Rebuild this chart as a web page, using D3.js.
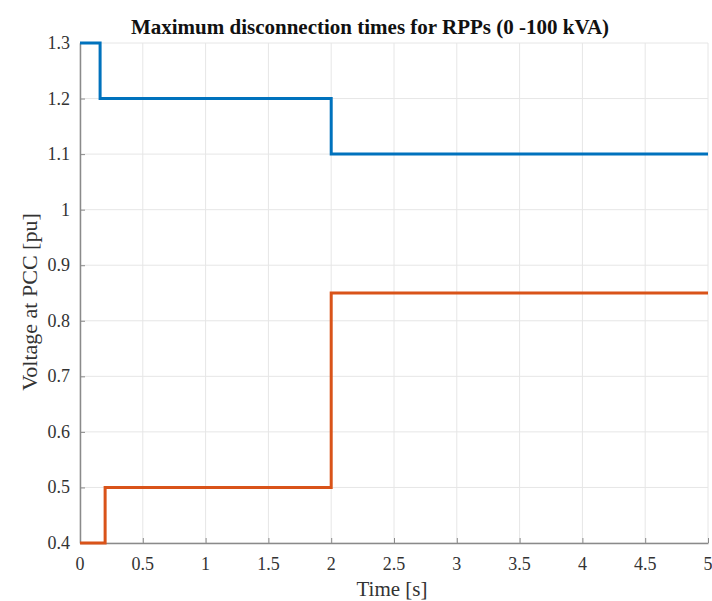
<!DOCTYPE html>
<html><head><meta charset="utf-8">
<script src="https://cdn.jsdelivr.net/npm/d3@7"></script>
<style>body{margin:0;background:#fff;} svg{display:block;}</style>
</head><body>
<svg id="c" width="712" height="601"></svg>
<script>
const title = "Maximum disconnection times for RPPs (0 -100 kVA)";
const xLabel = "Time [s]";
const yLabel = "Voltage at PCC [pu]";
const xTicks = [0,0.5,1,1.5,2,2.5,3,3.5,4,4.5,5];
const yTicks = [0.4,0.5,0.6,0.7,0.8,0.9,1,1.1,1.2,1.3];
const upperTime = [0,0.16,0.16,2,2,5];
const upperVolt = [1.3,1.3,1.2,1.2,1.1,1.1];
const lowerTime = [0,0.2,0.2,2,2,5];
const lowerVolt = [0.4,0.4,0.5,0.5,0.85,0.85];

const svg = d3.select("#c");
const m = {l:80, r:708, t:43, b:543};
const x = d3.scaleLinear().domain([0,5]).range([m.l,m.r]);
const y = d3.scaleLinear().domain([0.4,1.3]).range([m.b,m.t]);
const font = "Liberation Serif";
const fmt = d3.format("~g");

// grid
svg.append("g").selectAll("line").data(xTicks).join("line")
  .attr("x1",d=>x(d)).attr("x2",d=>x(d)).attr("y1",m.t).attr("y2",m.b)
  .attr("stroke","#e6e6e6").attr("stroke-width",1);
svg.append("g").selectAll("line").data(yTicks).join("line")
  .attr("y1",d=>y(d)).attr("y2",d=>y(d)).attr("x1",m.l).attr("x2",m.r)
  .attr("stroke","#e6e6e6").attr("stroke-width",1);

// axis lines and tick marks
const xa = svg.append("g").attr("transform",`translate(0,${m.b})`)
  .call(d3.axisBottom(x).tickValues(xTicks).tickSizeInner(-5).tickSizeOuter(0).tickFormat(""));
const ya = svg.append("g").attr("transform",`translate(${m.l},0)`)
  .call(d3.axisLeft(y).tickValues(yTicks).tickSizeInner(-5).tickSizeOuter(0).tickFormat(""));
[xa,ya].forEach(a=>{
  a.select(".domain").attr("stroke","#8a8a8a").attr("stroke-width",1.5);
  a.selectAll(".tick line").attr("stroke","#8a8a8a");
  a.selectAll(".tick text").remove();
});

// tick labels
svg.append("g").selectAll("text").data(xTicks).join("text")
  .attr("x",d=>x(d)).attr("y",m.b+27).attr("text-anchor","middle")
  .attr("font-family",font).attr("font-size",18).attr("fill","#333").text(fmt);
svg.append("g").selectAll("text").data(yTicks).join("text")
  .attr("x",m.l-10).attr("y",d=>y(d)+6).attr("text-anchor","end")
  .attr("font-family",font).attr("font-size",18).attr("fill","#333").text(fmt);

// lines
const line = d3.line().x(d=>x(d[0])).y(d=>y(d[1]));
svg.append("path").datum(upperTime.map((t,i)=>[t,upperVolt[i]]))
  .attr("d",line).attr("fill","none").attr("stroke","#0072BD").attr("stroke-width",3);
svg.append("path").datum(lowerTime.map((t,i)=>[t,lowerVolt[i]]))
  .attr("d",line).attr("fill","none").attr("stroke","#D95319").attr("stroke-width",3);

// labels
svg.append("text").attr("x",370).attr("y",34).attr("text-anchor","middle")
  .attr("font-family",font).attr("font-size",21).attr("font-weight","bold").attr("fill","#111").text(title);
svg.append("text").attr("x",392).attr("y",596).attr("text-anchor","middle")
  .attr("font-family",font).attr("font-size",21).attr("fill","#333").text(xLabel);
svg.append("text").attr("transform","translate(37,302) rotate(-90)").attr("text-anchor","middle")
  .attr("font-family",font).attr("font-size",22).attr("fill","#333").text(yLabel);
</script>
</body></html>
